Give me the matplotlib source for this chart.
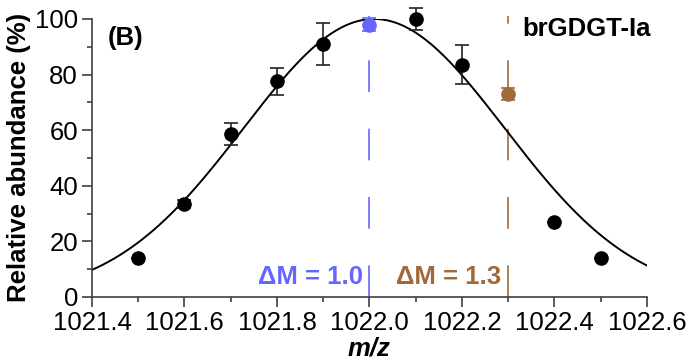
import numpy as np
import matplotlib.pyplot as plt

plt.rcParams['font.family'] = ['Liberation Sans', 'DejaVu Sans']

# measured points (m/z, relative abundance %, error)
mz = [1021.5, 1021.6, 1021.7, 1021.8, 1021.9, 1022.1, 1022.2, 1022.4, 1022.5]
abund = [14, 33.5, 58.5, 77.5, 91, 100, 83.5, 27, 14]
err = [0, 1.5, 4, 5, 7.5, 4, 7, 0, 0]

# highlighted points
mz_blue, abund_blue, err_blue = 1022.0, 98, 2.5
mz_brown, abund_brown, err_brown = 1022.3, 73, 2

# gaussian fit parameters
amp, cen, sig = 100.0, 1022.01, 0.2825

blue = '#6666ff'
brown = '#a0693a'
axcol = '#404040'

fig = plt.figure(figsize=(6.89, 3.61), dpi=100)
ax = fig.add_axes([0.1335, 0.1775, 0.8055, 0.77])

xx = np.linspace(1021.4, 1022.6, 300)
ax.plot(xx, amp * np.exp(-(xx - cen) ** 2 / (2 * sig ** 2)), color='black', lw=1.4, zorder=2)

# dashed markers
ax.plot([mz_blue, mz_blue], [0, 101], color=blue, lw=1.2, linestyle=(0, (19, 22)), zorder=1, clip_on=False)
ax.plot([mz_brown, mz_brown], [0, 101], color=brown, lw=1.2, linestyle=(0, (19, 22)), zorder=1, clip_on=False)

ax.errorbar(mz, abund, yerr=err, fmt='o', color='black', ms=9.5, capsize=5, elinewidth=1.2,
            capthick=1.2, ecolor='#222222', zorder=3, clip_on=False)
ax.errorbar([mz_blue], [abund_blue], yerr=[err_blue], fmt='o', color=blue, ms=9.5, capsize=5,
            elinewidth=1.2, capthick=1.2, zorder=3, clip_on=False)
ax.errorbar([mz_brown], [abund_brown], yerr=[err_brown], fmt='o', color=brown, ms=9.5, capsize=5,
            elinewidth=1.2, capthick=1.2, zorder=3, clip_on=False)

ax.set_xlim(1021.4, 1022.6)
ax.set_ylim(0, 100)
ax.set_xticks(np.arange(1021.4, 1022.61, 0.2))
ax.set_xticklabels(['1021.4', '1021.6', '1021.8', '1022.0', '1022.2', '1022.4', '1022.6'])
ax.set_xticks(np.arange(1021.5, 1022.6, 0.2), minor=True)
ax.set_yticks([0, 20, 40, 60, 80, 100])
ax.set_yticks([10, 30, 50, 70, 90], minor=True)

for s in ['top', 'right']:
    ax.spines[s].set_visible(False)
for s in ['left', 'bottom']:
    ax.spines[s].set_color(axcol)
    ax.spines[s].set_linewidth(1.2)

ax.tick_params(which='major', length=7, width=1.2, color=axcol, labelsize=18.5, pad=3)
ax.tick_params(which='minor', length=3.6, width=1.2, color=axcol)

ax.set_ylabel('Relative abundance (%)', fontsize=18.5, fontweight='bold', labelpad=3)
ax.set_xlabel('m/z', fontsize=18.5, fontweight='bold', fontstyle='italic', labelpad=1)

ax.text(1021.435, 93, '(B)', fontsize=18.5, fontweight='bold', ha='left', va='center')
ax.text(1022.33, 96.5, 'brGDGT-Ia', fontsize=18.5, fontweight='bold', ha='left', va='center')
ax.text(1021.985, 7, 'ΔM = 1.0', fontsize=18.5, fontweight='bold', color=blue, ha='right', va='center')
ax.text(1022.285, 7, 'ΔM = 1.3', fontsize=18.5, fontweight='bold', color=brown, ha='right', va='center')

fig.savefig('out.png', dpi=100)
